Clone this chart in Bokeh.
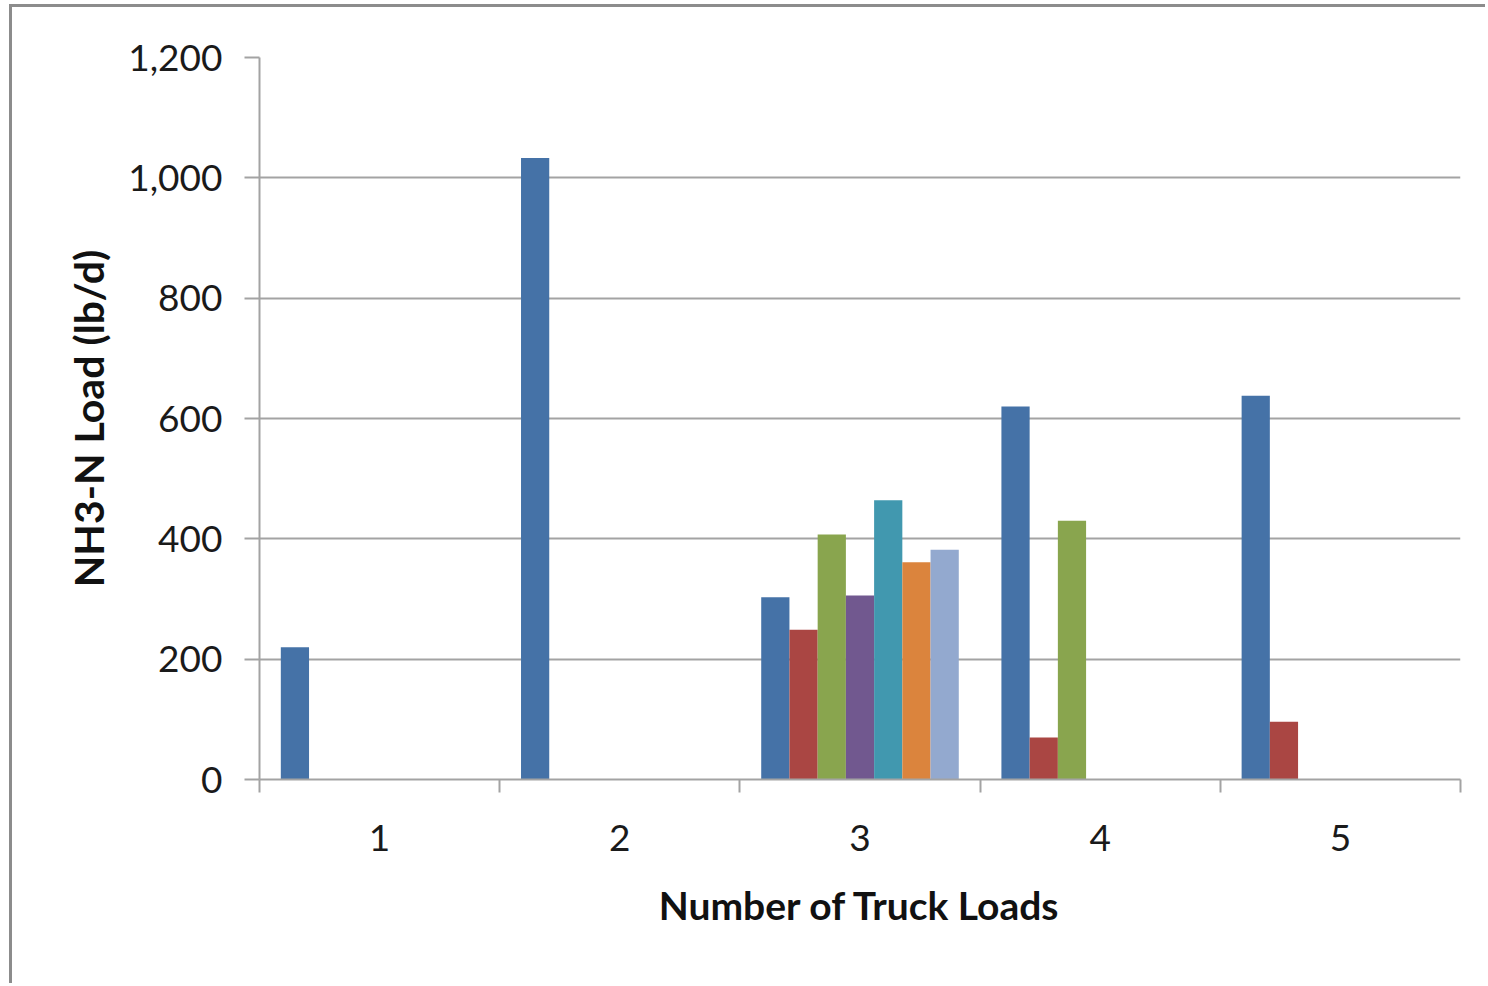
from bokeh.plotting import figure
from bokeh.models import (ColumnDataSource, Range1d, LinearAxis, FixedTicker,
                          NumeralTickFormatter, Grid)
from bokeh.transform import dodge
from bokeh.embed import file_html
from bokeh.resources import INLINE

nan = float("nan")

# Number of truck loads (category) and NH3-N load per event (lb/d)
truck_loads = [1, 2, 3, 4, 5]
tick_labels = ["1", "2", "3", "4", "5"]
event_1 = [220, 1033, 303, 620, 638]
event_2 = [nan, nan, 249, 70, 96]
event_3 = [nan, nan, 407, 430, nan]
event_4 = [nan, nan, 306, nan, nan]
event_5 = [nan, nan, 464, nan, nan]
event_6 = [nan, nan, 361, nan, nan]
event_7 = [nan, nan, 382, nan, nan]
y_ticks = [0, 200, 400, 600, 800, 1000, 1200]

series = [event_1, event_2, event_3, event_4, event_5, event_6, event_7]
colors = ["#4572A7", "#AA4643", "#89A54E", "#71588F", "#4198AF", "#DB843D", "#93A9CF"]

src = ColumnDataSource(dict(cat=truck_loads,
                            **{f"s{i}": s for i, s in enumerate(series)}))

GRAY = "#a3a3a3"
FONT = "Lato"

p = figure(width=1476, height=979, output_backend="svg", toolbar_location=None,
           x_range=Range1d(0.5, 5.5), y_range=Range1d(0, 1200),
           min_border_left=247, min_border_right=28, min_border_top=50,
           min_border_bottom=207, x_axis_type=None, y_axis_type=None,
           outline_line_color=None,
           styles={"margin-left": "9px", "margin-top": "4px",
                   "border-left": "3px solid #8c8c8c",
                   "border-top": "3px solid #8c8c8c"})

bar_w = 0.1175
for i, c in enumerate(colors):
    p.vbar(x=dodge("cat", (i - 3) * bar_w, range=p.x_range), top=f"s{i}",
           width=bar_w, bottom=0, source=src, fill_color=c, line_color=None)

# y axis
yax = LinearAxis(ticker=FixedTicker(ticks=y_ticks),
                 formatter=NumeralTickFormatter(format="0,0"))
yax.axis_line_color = GRAY
yax.axis_line_width = 2
yax.major_tick_line_color = GRAY
yax.major_tick_line_width = 2
yax.major_tick_out = 15
yax.major_tick_in = 0
yax.minor_tick_line_color = None
yax.major_label_text_font = FONT
yax.major_label_text_font_size = "37px"
yax.major_label_text_color = "#1a1a1a"
yax.major_label_standoff = 22
yax.axis_label = "NH3-N Load (lb/d)"
yax.axis_label_text_font = FONT
yax.axis_label_text_font_style = "bold"
yax.axis_label_text_font_size = "41px"
yax.axis_label_text_color = "#111111"
yax.axis_label_standoff = 12
p.add_layout(yax, "left")

# x axis: boundary ticks between groups
xb = LinearAxis(ticker=FixedTicker(ticks=[0.5, 1.5, 2.5, 3.5, 4.5, 5.5]))
xb.major_label_overrides = {0.5: "", 1.5: "", 2.5: "", 3.5: "", 4.5: "", 5.5: ""}
xb.major_label_text_font_size = "1px"
xb.major_label_standoff = 0
xb.axis_line_color = GRAY
xb.axis_line_width = 2
xb.major_tick_line_color = GRAY
xb.major_tick_line_width = 2
xb.major_tick_out = 13
xb.major_tick_in = 0
xb.minor_tick_line_color = None
p.add_layout(xb, "below")

# x axis: group labels
xl = LinearAxis(ticker=FixedTicker(ticks=truck_loads))
xl.major_label_overrides = {k: lab for k, lab in zip(truck_loads, tick_labels)}
xl.axis_line_color = None
xl.major_tick_line_color = None
xl.minor_tick_line_color = None
xl.major_label_text_font = FONT
xl.major_label_text_font_size = "37px"
xl.major_label_text_color = "#1a1a1a"
xl.major_label_standoff = 26
xl.axis_label = "Number of Truck Loads"
xl.axis_label_text_font = FONT
xl.axis_label_text_font_style = "bold"
xl.axis_label_text_font_size = "39px"
xl.axis_label_text_color = "#111111"
xl.axis_label_standoff = 28
p.add_layout(xl, "below")

p.add_layout(Grid(dimension=1, ticker=yax.ticker, grid_line_color=GRAY,
                  grid_line_width=2))

open("out.html", "w").write(file_html(p, INLINE))
